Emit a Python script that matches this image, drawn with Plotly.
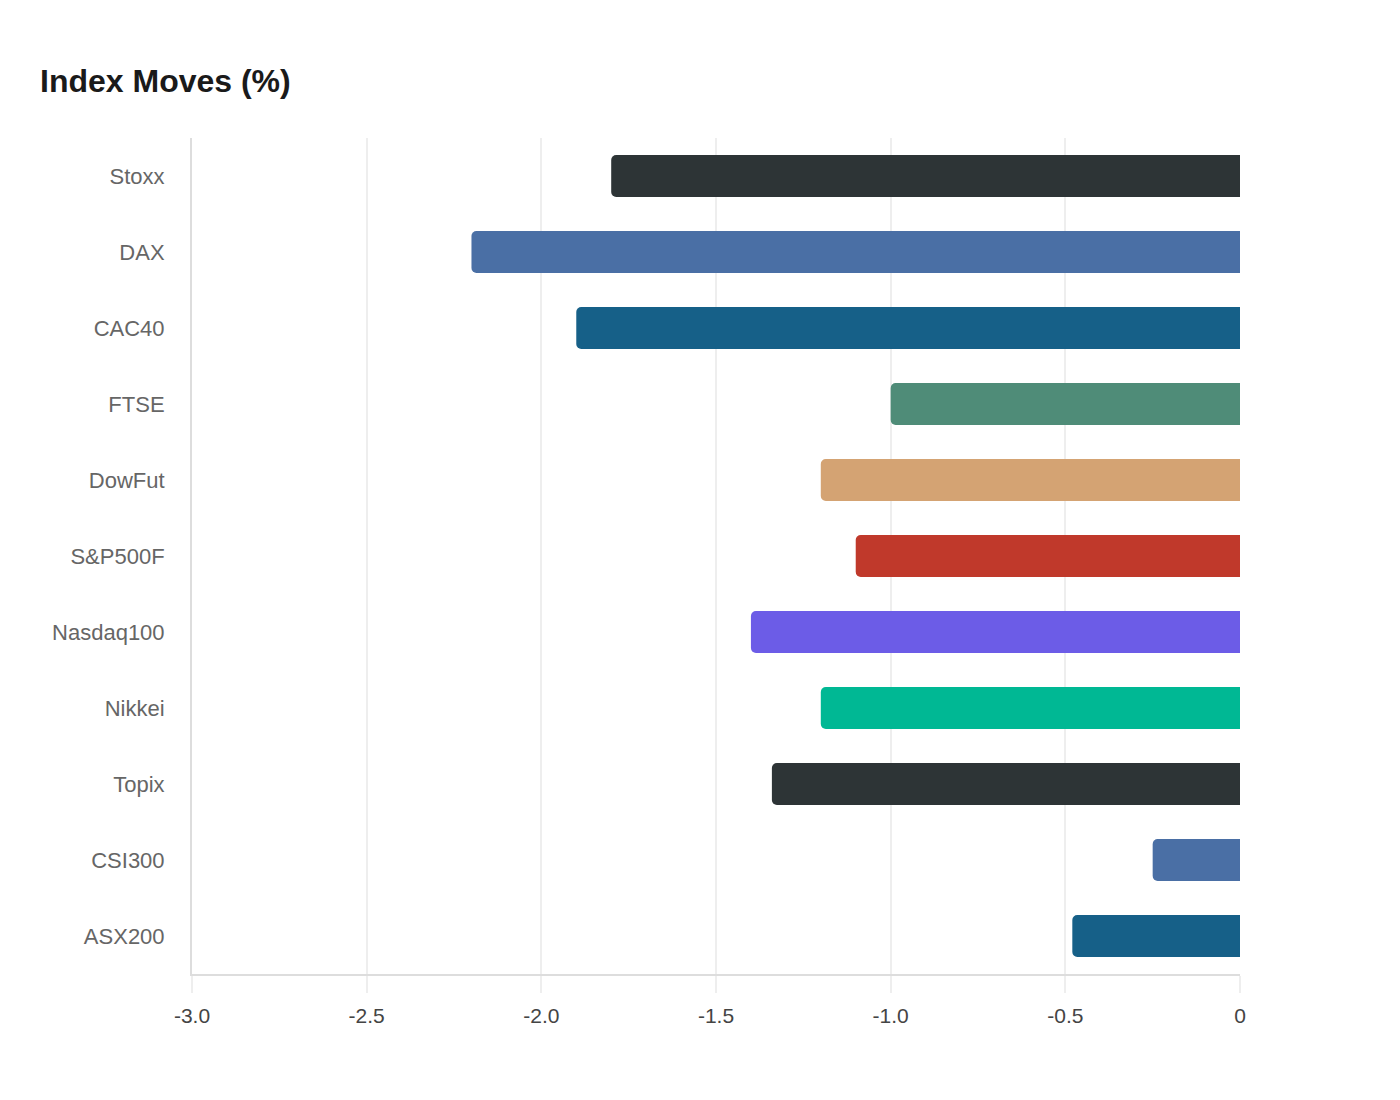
import plotly.graph_objects as go

# index moves, top to bottom as shown
indices = ["Stoxx", "DAX", "CAC40", "FTSE", "DowFut", "S&P500F",
           "Nasdaq100", "Nikkei", "Topix", "CSI300", "ASX200"]
moves = [-1.8, -2.2, -1.9, -1.0, -1.2, -1.1, -1.4, -1.2, -1.34, -0.25, -0.48]
bar_colors = ["#2d3436", "#4a6fa5", "#166088", "#4f8c78", "#d4a373", "#c0392b",
              "#6c5ce7", "#00b894", "#2d3436", "#4a6fa5", "#166088"]
x_ticks = [-3.0, -2.5, -2.0, -1.5, -1.0, -0.5, 0]
x_tick_text = ["-3.0", "-2.5", "-2.0", "-1.5", "-1.0", "-0.5", "0"]

fig = go.Figure(go.Bar(
    x=moves,
    y=indices,
    orientation="h",
    marker=dict(color=bar_colors, cornerradius=5, line=dict(width=0)),
    hoverinfo="x+y",
))

fig.update_layout(
    width=1400,
    height=1100,
    paper_bgcolor="white",
    plot_bgcolor="white",
    font=dict(family="Liberation Sans, Arial, sans-serif", size=21, color="#555"),
    title=dict(text="<b>Index Moves (%)</b>", x=32 / 1400, xanchor="left",
               y=1 - 73 / 1100, yanchor="middle",
               font=dict(size=32, color="#1a1a1a")),
    margin=dict(l=184, r=168, t=130, b=134),
    bargap=0.45,
    showlegend=False,
)

fig.update_xaxes(
    range=[-3, 0],
    tickvals=x_ticks,
    ticktext=x_tick_text,
    showgrid=True,
    gridcolor="#eeeeee",
    gridwidth=2,
    zeroline=False,
    showline=True,
    linecolor="#dddddd",
    linewidth=2,
    ticks="outside",
    ticklen=17,
    tickcolor="#eeeeee",
    tickwidth=2,
    ticklabelstandoff=5,
    tickfont=dict(size=21, color="#444"),
)

fig.update_yaxes(
    categoryorder="array",
    categoryarray=indices[::-1],
    showgrid=False,
    zeroline=False,
    showline=True,
    linecolor="#dddddd",
    linewidth=2,
    ticks="",
    ticklabelstandoff=21,
    tickfont=dict(size=22, color="#666"),
)

fig.write_html("out.html")
